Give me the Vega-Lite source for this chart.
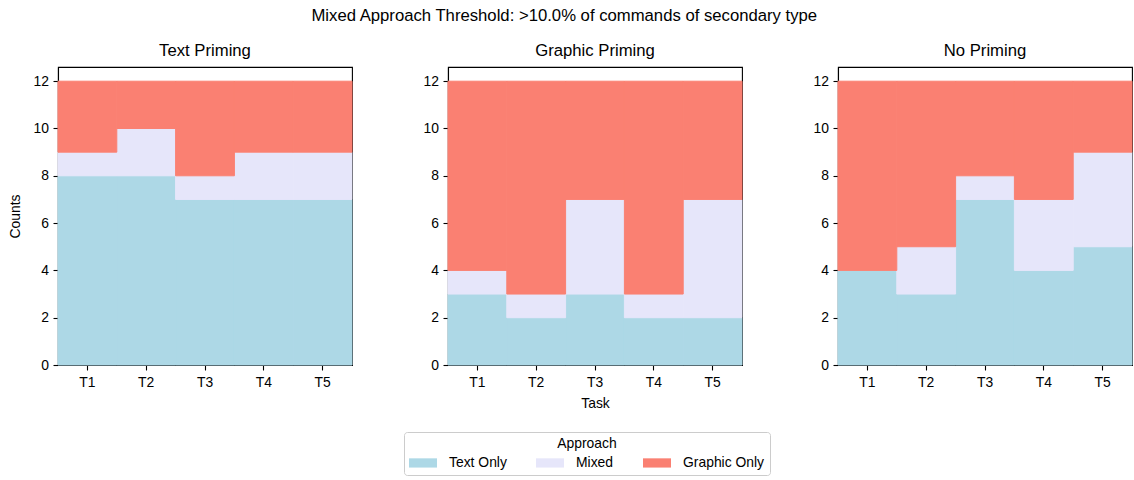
{
  "$schema": "https://vega.github.io/schema/vega-lite/v6.json",
  "background": "white",
  "padding": {"left": 7, "top": 8, "right": 1, "bottom": 2},
  "title": {"text": "Mixed Approach Threshold: >10.0% of commands of secondary type", "fontSize": 16.7, "font": "Liberation Sans", "fontWeight": "normal", "anchor": "middle", "offset": 18, "dx": -6, "color": "black"},
  "data": {"values": [
    {"condition": "Text Priming", "task": "T1", "approach": "Text Only", "count": 8},
    {"condition": "Text Priming", "task": "T2", "approach": "Text Only", "count": 8},
    {"condition": "Text Priming", "task": "T3", "approach": "Text Only", "count": 7},
    {"condition": "Text Priming", "task": "T4", "approach": "Text Only", "count": 7},
    {"condition": "Text Priming", "task": "T5", "approach": "Text Only", "count": 7},
    {"condition": "Text Priming", "task": "T1", "approach": "Mixed", "count": 1},
    {"condition": "Text Priming", "task": "T2", "approach": "Mixed", "count": 2},
    {"condition": "Text Priming", "task": "T3", "approach": "Mixed", "count": 1},
    {"condition": "Text Priming", "task": "T4", "approach": "Mixed", "count": 2},
    {"condition": "Text Priming", "task": "T5", "approach": "Mixed", "count": 2},
    {"condition": "Text Priming", "task": "T1", "approach": "Graphic Only", "count": 3},
    {"condition": "Text Priming", "task": "T2", "approach": "Graphic Only", "count": 2},
    {"condition": "Text Priming", "task": "T3", "approach": "Graphic Only", "count": 4},
    {"condition": "Text Priming", "task": "T4", "approach": "Graphic Only", "count": 3},
    {"condition": "Text Priming", "task": "T5", "approach": "Graphic Only", "count": 3},
    {"condition": "Graphic Priming", "task": "T1", "approach": "Text Only", "count": 3},
    {"condition": "Graphic Priming", "task": "T2", "approach": "Text Only", "count": 2},
    {"condition": "Graphic Priming", "task": "T3", "approach": "Text Only", "count": 3},
    {"condition": "Graphic Priming", "task": "T4", "approach": "Text Only", "count": 2},
    {"condition": "Graphic Priming", "task": "T5", "approach": "Text Only", "count": 2},
    {"condition": "Graphic Priming", "task": "T1", "approach": "Mixed", "count": 1},
    {"condition": "Graphic Priming", "task": "T2", "approach": "Mixed", "count": 1},
    {"condition": "Graphic Priming", "task": "T3", "approach": "Mixed", "count": 4},
    {"condition": "Graphic Priming", "task": "T4", "approach": "Mixed", "count": 1},
    {"condition": "Graphic Priming", "task": "T5", "approach": "Mixed", "count": 5},
    {"condition": "Graphic Priming", "task": "T1", "approach": "Graphic Only", "count": 8},
    {"condition": "Graphic Priming", "task": "T2", "approach": "Graphic Only", "count": 9},
    {"condition": "Graphic Priming", "task": "T3", "approach": "Graphic Only", "count": 5},
    {"condition": "Graphic Priming", "task": "T4", "approach": "Graphic Only", "count": 9},
    {"condition": "Graphic Priming", "task": "T5", "approach": "Graphic Only", "count": 5},
    {"condition": "No Priming", "task": "T1", "approach": "Text Only", "count": 4},
    {"condition": "No Priming", "task": "T2", "approach": "Text Only", "count": 3},
    {"condition": "No Priming", "task": "T3", "approach": "Text Only", "count": 7},
    {"condition": "No Priming", "task": "T4", "approach": "Text Only", "count": 4},
    {"condition": "No Priming", "task": "T5", "approach": "Text Only", "count": 5},
    {"condition": "No Priming", "task": "T1", "approach": "Mixed", "count": 0},
    {"condition": "No Priming", "task": "T2", "approach": "Mixed", "count": 2},
    {"condition": "No Priming", "task": "T3", "approach": "Mixed", "count": 1},
    {"condition": "No Priming", "task": "T4", "approach": "Mixed", "count": 3},
    {"condition": "No Priming", "task": "T5", "approach": "Mixed", "count": 4},
    {"condition": "No Priming", "task": "T1", "approach": "Graphic Only", "count": 8},
    {"condition": "No Priming", "task": "T2", "approach": "Graphic Only", "count": 7},
    {"condition": "No Priming", "task": "T3", "approach": "Graphic Only", "count": 4},
    {"condition": "No Priming", "task": "T4", "approach": "Graphic Only", "count": 5},
    {"condition": "No Priming", "task": "T5", "approach": "Graphic Only", "count": 3}
  ]},
  "spacing": 96,
  "bounds": "flush",
  "hconcat": [
    {
      "width": 294, "height": 298,
      "title": "Text Priming",
      "transform": [{"filter": "datum.condition === 'Text Priming'"}],
      "mark": {"type": "bar", "strokeWidth": 1},
      "encoding": {
        "x": {"field": "task", "type": "ordinal", "scale": {"paddingInner": 0, "paddingOuter": 0}, "axis": {"title": null, "labelAngle": 0}},
        "y": {"field": "count", "type": "quantitative", "stack": "zero", "scale": {"domain": [0, 12.6], "nice": false}, "axis": {"title": "Counts", "values": [0, 2, 4, 6, 8, 10, 12]}},
        "color": {"field": "approach", "type": "nominal", "sort": ["Text Only", "Mixed", "Graphic Only"], "scale": {"domain": ["Text Only", "Mixed", "Graphic Only"], "range": ["#ADD8E6", "#E6E6FA", "#FA8072"]},
          "legend": {"title": "Approach", "orient": "none", "legendX": 346, "legendY": 365, "direction": "horizontal", "columns": 3}},
        "stroke": {"field": "approach", "type": "nominal", "scale": {"domain": ["Text Only", "Mixed", "Graphic Only"], "range": ["#ADD8E6", "#E6E6FA", "#FA8072"]}, "legend": null}
      }
    },
    {
      "width": 294, "height": 298,
      "title": "Graphic Priming",
      "transform": [{"filter": "datum.condition === 'Graphic Priming'"}],
      "mark": {"type": "bar", "strokeWidth": 1},
      "encoding": {
        "x": {"field": "task", "type": "ordinal", "scale": {"paddingInner": 0, "paddingOuter": 0}, "axis": {"title": "Task", "labelAngle": 0}},
        "y": {"field": "count", "type": "quantitative", "stack": "zero", "scale": {"domain": [0, 12.6], "nice": false}, "axis": {"title": null, "values": [0, 2, 4, 6, 8, 10, 12]}},
        "color": {"field": "approach", "type": "nominal", "sort": ["Text Only", "Mixed", "Graphic Only"], "scale": {"domain": ["Text Only", "Mixed", "Graphic Only"], "range": ["#ADD8E6", "#E6E6FA", "#FA8072"]}},
        "stroke": {"field": "approach", "type": "nominal", "scale": {"domain": ["Text Only", "Mixed", "Graphic Only"], "range": ["#ADD8E6", "#E6E6FA", "#FA8072"]}, "legend": null}
      }
    },
    {
      "width": 294, "height": 298,
      "title": "No Priming",
      "transform": [{"filter": "datum.condition === 'No Priming'"}],
      "mark": {"type": "bar", "strokeWidth": 1},
      "encoding": {
        "x": {"field": "task", "type": "ordinal", "scale": {"paddingInner": 0, "paddingOuter": 0}, "axis": {"title": null, "labelAngle": 0}},
        "y": {"field": "count", "type": "quantitative", "stack": "zero", "scale": {"domain": [0, 12.6], "nice": false}, "axis": {"title": null, "values": [0, 2, 4, 6, 8, 10, 12]}},
        "color": {"field": "approach", "type": "nominal", "sort": ["Text Only", "Mixed", "Graphic Only"], "scale": {"domain": ["Text Only", "Mixed", "Graphic Only"], "range": ["#ADD8E6", "#E6E6FA", "#FA8072"]}},
        "stroke": {"field": "approach", "type": "nominal", "scale": {"domain": ["Text Only", "Mixed", "Graphic Only"], "range": ["#ADD8E6", "#E6E6FA", "#FA8072"]}, "legend": null}
      }
    }
  ],
  "config": {
    "font": "Liberation Sans",
    "view": {"stroke": "black", "strokeWidth": 1.1},
    "title": {"fontSize": 16.7, "fontWeight": "normal", "font": "Liberation Sans", "color": "black", "offset": 7},
    "axis": {
      "grid": false, "domainColor": "black", "domainWidth": 1.1, "tickColor": "black", "tickSize": 5, "tickWidth": 1.1,
      "labelColor": "black", "labelFontSize": 13.9, "labelFont": "Liberation Sans", "labelPadding": 4.5,
      "titleColor": "black", "titleFontSize": 13.9, "titleFontWeight": "normal", "titleFont": "Liberation Sans", "titlePadding": 6
    },
    "axisX": {"labelPadding": 5, "titlePadding": 8},
    "axisY": {"titlePadding": 11},
    "legend": {
      "titleAnchor": "middle", "titleOrient": "top", "titleFontWeight": "normal", "titleFontSize": 13.9, "titleColor": "black", "titleFont": "Liberation Sans",
      "labelFontSize": 13.9, "labelColor": "black", "labelFont": "Liberation Sans", "labelOffset": 26,
      "symbolType": "M-1,-0.66H3V0.66H-1Z", "symbolSize": 196, "symbolStrokeWidth": 0, "symbolOpacity": 1,
      "strokeColor": "#cccccc", "fillColor": "white", "cornerRadius": 3, "padding": 5, "columnPadding": 29, "titlePadding": 5
    }
  }
}
